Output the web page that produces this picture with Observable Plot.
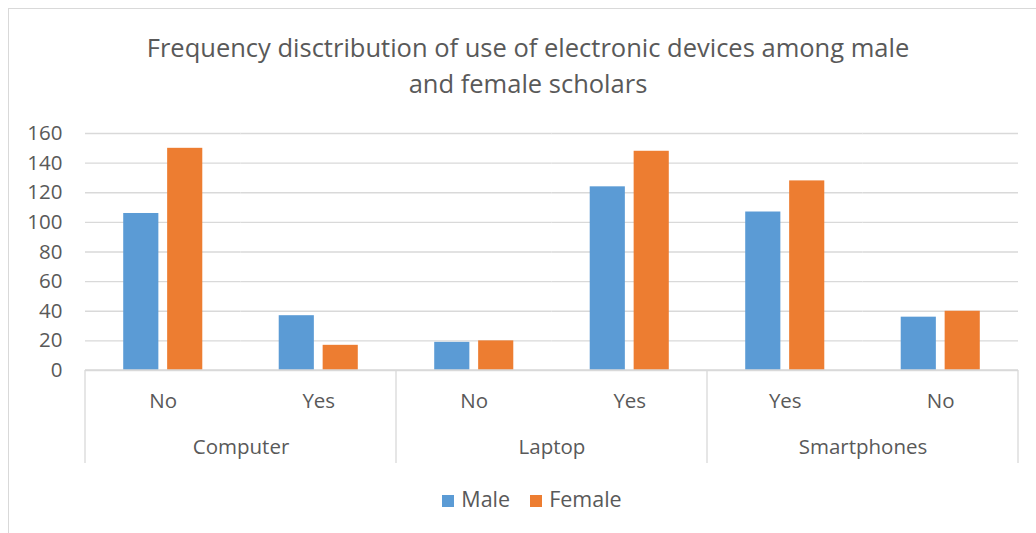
<!DOCTYPE html>
<html>
<head>
<meta charset="utf-8">
<script src="https://cdn.jsdelivr.net/npm/d3@7"></script>
<script src="https://cdn.jsdelivr.net/npm/@observablehq/plot@0.6"></script>
<style>
  html, body { margin: 0; padding: 0; background: #fff; }
  #wrap { position: relative; width: 1036px; height: 533px; overflow: hidden; font-family: "Open Sans", sans-serif; color: #595959; }
  #border { position: absolute; left: 8px; top: 8px; right: -2px; bottom: -2px; border-top: 1px solid #d9d9d9; border-left: 1px solid #d9d9d9; }
  #title { position: absolute; left: 0; width: 1056px; top: 29px; text-align: center; font-size: 25.5px; line-height: 36px; color: #595959; }
  #chart { position: absolute; left: 0; top: 0; }
  #legend { position: absolute; top: 484px; left: 0; width: 1064px; text-align: center; font-size: 21.5px; color: #595959; }
  #legend span.sw { display: inline-block; width: 12px; height: 12px; margin-right: 7px; vertical-align: 0px; }
  #legend span.item { margin: 0 10px; }
</style>
</head>
<body>
<div id="wrap">
  <div id="border"></div>
  <div id="chart"></div>
  <div id="title">Frequency disctribution of use of electronic devices among male<br>and female scholars</div>
  <div id="legend"></div>
</div>
<script>
const groups = ["Computer", "Computer", "Laptop", "Laptop", "Smartphones", "Smartphones"];
const answers = ["No", "Yes", "No", "Yes", "Yes", "No"];
const series = ["Male", "Female"];
const maleValues = [106, 37, 19, 124, 107, 36];
const femaleValues = [150, 17, 20, 148, 128, 40];
const colors = ["#5B9BD5", "#ED7D31"];
const yTicks = [0, 20, 40, 60, 80, 100, 120, 140, 160];

const keys = groups.map((g, i) => g + "|" + answers[i]);
const data = [];
keys.forEach((k, i) => {
  data.push({key: k, sex: "Male", value: maleValues[i]});
  data.push({key: k, sex: "Female", value: femaleValues[i]});
});
const groupNames = [...new Set(groups)];
const groupFirst = groupNames.map(g => ({group: g, key: keys[groups.indexOf(g)]}));

const plot = Plot.plot({
  width: 1036,
  height: 533,
  marginLeft: 85,
  marginRight: 18,
  marginTop: 133,
  marginBottom: 163,
  style: {fontFamily: "Open Sans, sans-serif", fontSize: "20.5px", color: "#595959", background: "transparent"},
  fx: {domain: keys, padding: 0, round: false, label: null},
  x: {domain: series, paddingInner: 0.2, paddingOuter: 0.87, round: false, axis: null},
  y: {domain: [0, 160], ticks: yTicks, label: null},
  color: {domain: series, range: colors},
  marks: [
    Plot.gridY(yTicks, {stroke: "#d9d9d9", strokeOpacity: 1, strokeWidth: 1.3}),
    Plot.axisY(yTicks, {tickSize: 0, tickPadding: 23, fontSize: 20.5, fill: "#595959", label: null}),
    Plot.barY(data, {fx: "key", x: "sex", y: "value", fill: "sex", inset: 0}),
    Plot.axisFx({anchor: "bottom", tickSize: 0, tickPadding: 23, fontSize: 20.5, fill: "#595959", label: null, tickFormat: d => d.split("|")[1]}),
    Plot.text(groupFirst, {fx: "key", text: "group", frameAnchor: "bottom-right", textAnchor: "middle", dy: 83, fontSize: 20.5, fill: "#595959"})
  ]
});
document.getElementById("chart").appendChild(plot);

// axis line and group separators positioned from the fx scale
const fx = plot.scale("fx");
const yS = plot.scale("y");
const svg = d3.select(plot);
const y0 = yS.apply(0);
const xLeft = fx.apply(keys[0]);
const xRight = fx.apply(keys[keys.length - 1]) + fx.bandwidth;
svg.append("line").attr("x1", xLeft).attr("x2", xRight).attr("y1", y0).attr("y2", y0)
  .attr("stroke", "#d9d9d9").attr("stroke-width", 1.3);
const bounds = groupFirst.map(d => fx.apply(d.key)).concat([xRight]);
bounds.forEach(x => {
  svg.append("line").attr("x1", x).attr("x2", x).attr("y1", y0).attr("y2", y0 + 93)
    .attr("stroke", "#d9d9d9").attr("stroke-width", 1.3);
});

// legend
const leg = document.getElementById("legend");
series.forEach((s, i) => {
  const item = document.createElement("span");
  item.className = "item";
  item.innerHTML = `<span class="sw" style="background:${colors[i]}"></span>${s}`;
  leg.appendChild(item);
});
</script>
</body>
</html>
